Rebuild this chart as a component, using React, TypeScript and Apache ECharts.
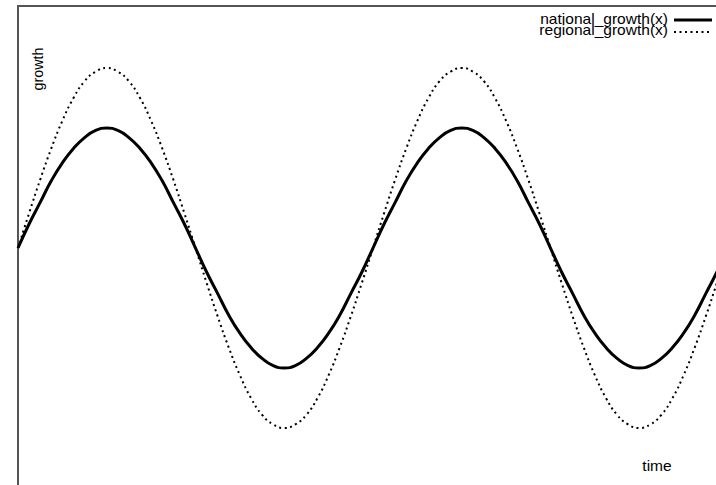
import React, { useEffect, useRef } from "react";
import * as echarts from "echarts";

const time = [
  0, 0.25, 0.5, 0.75, 1, 1.25, 1.5, 1.75, 2, 2.25, 2.5, 2.75, 3, 3.25, 3.5, 3.75,
  4, 4.25, 4.5, 4.75, 5, 5.25, 5.5, 5.75, 6, 6.25, 6.5, 6.75, 7, 7.25, 7.5, 7.75,
  8, 8.25, 8.5, 8.75, 9, 9.25, 9.5, 9.75, 10, 10.25, 10.5, 10.75, 11, 11.25, 11.5, 11.75,
  12, 12.25, 12.5, 12.75, 13, 13.25, 13.5, 13.75, 14, 14.25, 14.5, 14.75, 15, 15.25, 15.5, 15.75,
  16,
];
const nationalGrowth = [
  0, 0.2, 0.38, 0.56, 0.71, 0.83, 0.92, 0.98, 1, 0.98, 0.92, 0.83, 0.71, 0.56, 0.38, 0.2,
  0, -0.2, -0.38, -0.56, -0.71, -0.83, -0.92, -0.98, -1, -0.98, -0.92, -0.83, -0.71, -0.56, -0.38, -0.2,
  0, 0.2, 0.38, 0.56, 0.71, 0.83, 0.92, 0.98, 1, 0.98, 0.92, 0.83, 0.71, 0.56, 0.38, 0.2,
  0, -0.2, -0.38, -0.56, -0.71, -0.83, -0.92, -0.98, -1, -0.98, -0.92, -0.83, -0.71, -0.56, -0.38, -0.2,
  0,
];
const regionalGrowth = [
  0, 0.29, 0.57, 0.83, 1.06, 1.25, 1.39, 1.47, 1.5, 1.47, 1.39, 1.25, 1.06, 0.83, 0.57, 0.29,
  0, -0.29, -0.57, -0.83, -1.06, -1.25, -1.39, -1.47, -1.5, -1.47, -1.39, -1.25, -1.06, -0.83, -0.57, -0.29,
  0, 0.29, 0.57, 0.83, 1.06, 1.25, 1.39, 1.47, 1.5, 1.47, 1.39, 1.25, 1.06, 0.83, 0.57, 0.29,
  0, -0.29, -0.57, -0.83, -1.06, -1.25, -1.39, -1.47, -1.5, -1.47, -1.39, -1.25, -1.06, -0.83, -0.57, -0.29,
  0,
];
const seriesNames = ["national_growth(x)", "regional_growth(x)"];
const xName = "time";
const yName = "growth";

export default function App() {
  const ref = useRef<HTMLDivElement>(null);
  useEffect(() => {
    const chart = echarts.init(ref.current!, null, { renderer: "svg" });
    const font = "14px 'Liberation Sans', Arial, sans-serif";
    chart.setOption({
      animation: false,
      backgroundColor: "#ffffff",
      grid: { left: 18, top: 6, right: 0, bottom: 0, containLabel: false },
      xAxis: {
        type: "value",
        min: 0,
        max: 15.73,
        position: "top",
        axisLine: { show: true, onZero: false, lineStyle: { color: "#555", width: 2 } },
        axisTick: { show: false },
        axisLabel: { show: false },
        splitLine: { show: false },
      },
      yAxis: {
        type: "value",
        min: -1.975,
        max: 2.017,
        position: "left",
        axisLine: { show: true, onZero: false, lineStyle: { color: "#555", width: 2 } },
        axisTick: { show: false },
        axisLabel: { show: false },
        splitLine: { show: false },
      },
      series: [
        {
          name: seriesNames[0],
          type: "line",
          smooth: 0.5,
          showSymbol: false,
          data: time.map((t, i) => [t, nationalGrowth[i]]),
          lineStyle: { color: "#000", width: 3 },
        },
        {
          name: seriesNames[1],
          type: "line",
          smooth: 0.5,
          showSymbol: false,
          data: time.map((t, i) => [t, regionalGrowth[i]]),
          lineStyle: { color: "#000", width: 2, type: [2, 3.5] },
        },
      ],
      graphic: [
        {
          type: "text",
          x: 668,
          y: 19,
          scaleX: 1.11,
          style: { text: seriesNames[0], font, fill: "#000", textAlign: "right", align: "right", textVerticalAlign: "middle", verticalAlign: "middle" },
        },
        {
          type: "text",
          x: 668,
          y: 30,
          scaleX: 1.11,
          style: { text: seriesNames[1], font, fill: "#000", textAlign: "right", align: "right", textVerticalAlign: "middle", verticalAlign: "middle" },
        },
        { type: "line", shape: { x1: 674, y1: 20, x2: 712, y2: 20 }, style: { stroke: "#000", lineWidth: 3 } },
        { type: "line", shape: { x1: 674, y1: 32, x2: 712, y2: 32 }, style: { stroke: "#000", lineWidth: 2, lineDash: [2, 3.5] } },
        {
          type: "text",
          x: 657,
          y: 466,
          scaleX: 1.11,
          style: { text: xName, font, fill: "#000", textAlign: "center", align: "center", textVerticalAlign: "middle", verticalAlign: "middle" },
        },
        {
          type: "text",
          x: 38,
          y: 69,
          rotation: Math.PI / 2,
          scaleX: 1.02,
          style: { text: yName, font, fill: "#000", textAlign: "center", align: "center", textVerticalAlign: "middle", verticalAlign: "middle" },
        },
      ],
    });
    return () => chart.dispose();
  }, []);
  return <div ref={ref} style={{ width: 716, height: 485, position: "absolute", left: 0, top: 0 }} />;
}
